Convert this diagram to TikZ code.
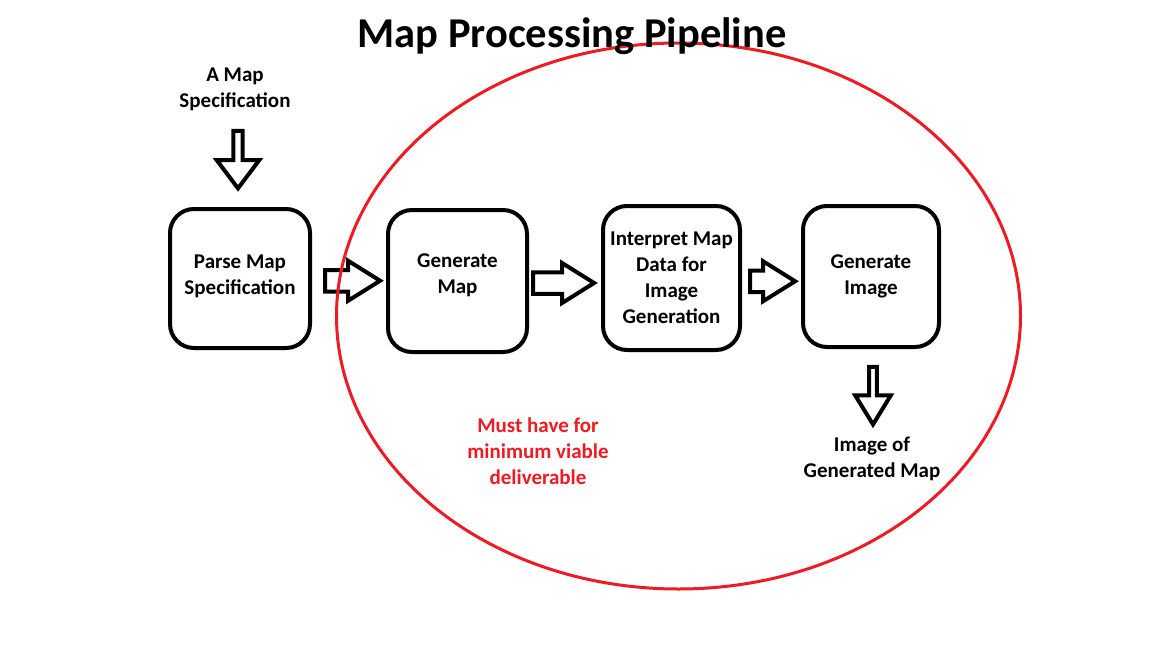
\documentclass[tikz,border=0pt]{standalone}
\usepackage{fontspec}
\setmainfont{Carlito}
\usetikzlibrary{shapes.arrows,calc}
\definecolor{myred}{RGB}{237,28,36}
\begin{document}
\begin{tikzpicture}[x=1pt,y=-1pt,
  box/.style={draw, line width=4pt, rounded corners=24pt, inner sep=0pt},
  lbl/.style={align=center, font=\bfseries\fontsize{21}{26}\selectfont, inner sep=0pt},
  rarrow/.style={single arrow, draw, line width=4pt, inner xsep=0pt, inner ysep=8.75pt,
    minimum width=36pt, single arrow head extend=9.25pt, single arrow tip angle=64},
  darrow/.style={single arrow, draw, line width=4pt, inner xsep=0pt,
    shape border rotate=270, minimum height=57.5pt}]
\useasboundingbox (0,0) rectangle (1152,648);
\fill[white] (0,0) rectangle (1152,648);
% boxes
\node[box, minimum width=140pt, minimum height=139pt] (parse) at (240,278.5) {};
\node[box, minimum width=139pt, minimum height=142pt] (genmap) at (457.5,281) {};
\node[box, minimum width=137pt, minimum height=144pt] (interp) at (671.5,278) {};
\node[box, minimum width=136pt, minimum height=141pt] (genimg) at (871,276.5) {};
\node[lbl] (parseT) at ($(parse.center)+(0,-2.5)$) {Parse Map\\Specification};
\node[lbl] (genmapT) at ($(genmap.center)+(0,-6)$) {Generate\\Map};
\node[lbl] (interpT) at ($(interp.center)+(0,-0.5)$) {Interpret Map\\Data for\\Image\\Generation};
\node[lbl] (genimgT) at ($(genimg.center)+(0,-0.5)$) {Generate\\Image};
% labels
\node[lbl] (spec) at (235,89.5) {A Map\\Specification};
\node[lbl] (out) at (872,459) {Image of\\Generated Map};
\node[lbl, text=myred] (mvp) at (538,451) {Must have for\\minimum viable\\deliverable};
% block arrows
\node[darrow, inner ysep=10.25pt, minimum width=42.5pt, single arrow tip angle=74] (d1) at (238,156.5) {};
\node[rarrow, minimum height=55pt] (a1) at ($(parse.east)!0.5!(genmap.west)+(-5,1)$) {};
\node[rarrow, minimum height=61pt] (a2) at ($(genmap.east)!0.5!(interp.west)+(-10,3.5)$) {};
\node[rarrow, minimum height=45pt] (a3) at ($(interp.east)!0.5!(genimg.west)+(-7.5,4)$) {};
\node[darrow, inner ysep=8.75pt, minimum width=35.5pt, single arrow tip angle=63] (d2) at (873,392.5) {};
% ellipse
\draw[myred, line width=3pt] (678.5,316) ellipse [x radius=342, y radius=273];
% title
\node[font=\bfseries\fontsize{42.5}{50}\selectfont, inner sep=0pt] (title) at (572,36) {Map Processing Pipeline};
\end{tikzpicture}
\end{document}
